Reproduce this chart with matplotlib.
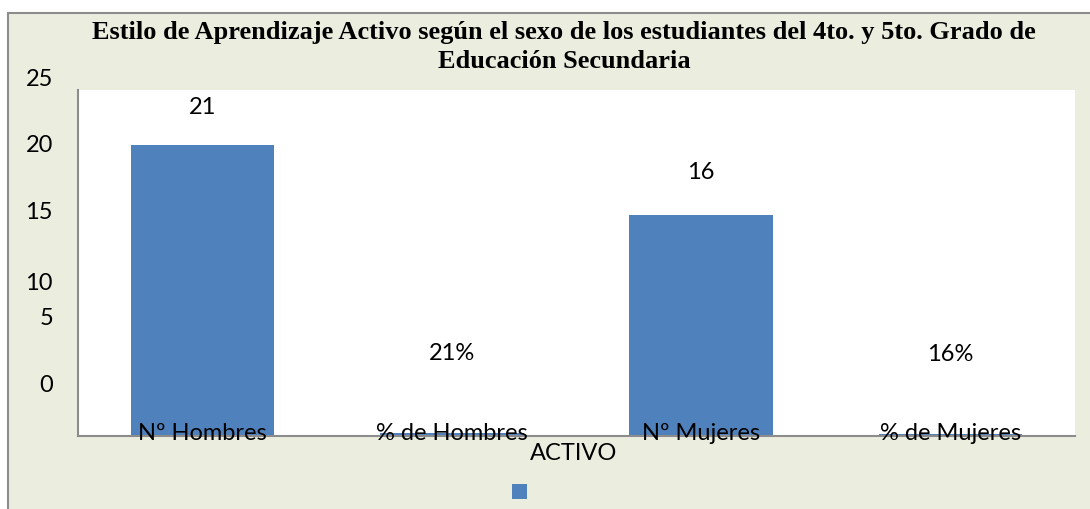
import matplotlib
matplotlib.use("Agg")
import matplotlib.pyplot as plt
from matplotlib.patches import Rectangle

categories = ["Nº Hombres", "% de Hombres", "Nº Mujeres", "% de Mujeres"]
values = [21, 0.21, 16, 0.16]
value_labels = ["21", "21%", "16", "16%"]
ytick_labels = ["25", "20", "15", "10", "5", "0"]
series_name = "ACTIVO"
title = ("Estilo de Aprendizaje Activo según el sexo de los estudiantes del 4to. y 5to. Grado de\n"
         "Educación Secundaria")

# layout (not data): label offsets in points above bar tops, tick-label axes fractions
label_offsets = [27, 57, 30, 57]
ytick_fracs = [1.029, 0.841, 0.645, 0.442, 0.341, 0.147]

BG = "#EBEEDF"
BAR = "#4F81BD"
FONT = ["Lato", "DejaVu Sans"]
FS = 17

fig = plt.figure(figsize=(10.9, 5.09), dpi=100)
fig.patch.set_facecolor("white")
W, H = 1090, 509
fig.patches.append(Rectangle((8 / W, -0.1), 1.2, 1 - 13 / H + 0.1, transform=fig.transFigure,
                             facecolor=BG, edgecolor="#8C8C8C", linewidth=1.5, zorder=-10))

ax = fig.add_axes([78 / W, (509 - 436) / H, (1075 - 78) / W, (436 - 90) / H])
ax.set_facecolor("white")
x = list(range(len(categories)))
ax.bar(x, values, width=0.575, color=BAR, zorder=1)
ax.set_xlim(-0.5, len(categories) - 0.5)
ax.set_ylim(0, 25)

for xi, v, lab, off in zip(x, values, value_labels, label_offsets):
    ax.annotate(lab, (xi, v), xytext=(0, off), textcoords="offset points",
                ha="center", va="center", fontsize=FS, family=FONT, color="black")

ax.set_xticks(x)
ax.set_xticklabels(categories, fontsize=FS, family=FONT)
ax.tick_params(axis="x", length=0, pad=-9.5)
ax.xaxis.set_zorder(5)
ax.set_yticks([])
for lab, fy in zip(ytick_labels, ytick_fracs):
    ax.text(-25 / 997, fy, lab, transform=ax.transAxes, ha="right", va="center",
            fontsize=FS, family=FONT, clip_on=False)

for s in ["top", "right"]:
    ax.spines[s].set_visible(False)
for s in ["left", "bottom"]:
    ax.spines[s].set_color("#8C8C8C")
    ax.spines[s].set_linewidth(1.5)
    ax.spines[s].set_zorder(3)

fig.text(574 / W, 1 - 454 / H, series_name, ha="center", va="center", fontsize=FS, family=FONT)
fig.patches.append(Rectangle((512 / W, 1 - 499 / H), 15 / W, 15 / H, transform=fig.transFigure,
                             facecolor=BAR, edgecolor="none"))

fig.text(564 / W, 1 - 47 / H, title, ha="center", va="center", fontsize=19, fontweight="bold",
         family="Liberation Serif", linespacing=1.3)

fig.savefig("out.png", dpi=100, facecolor=fig.get_facecolor())
